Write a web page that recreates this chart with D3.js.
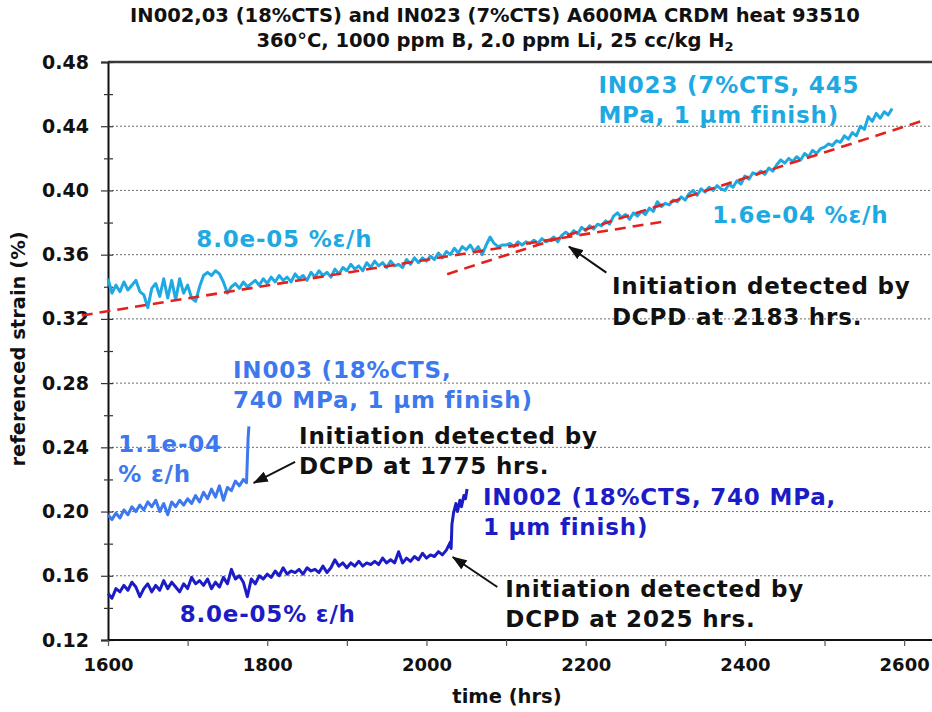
<!DOCTYPE html>
<html>
<head>
<meta charset="utf-8">
<script src="https://cdn.jsdelivr.net/npm/d3@7"></script>
<style>
  body { margin: 0; background: #fff; }
  svg { display: block; font-family: "DejaVu Sans", Verdana, sans-serif; font-weight: bold; }
</style>
</head>
<body>
<script>
// ---- strain histories (%), sampled every 5 h from 1600 h ----
const sampleStart = 1600;
const sampleStep = 5;

// IN023 (7%CTS, 445 MPa)
const in023Values = [
  0.345, 0.336, 0.341, 0.337, 0.343, 0.338, 0.341, 0.344, 0.337, 0.335,
  0.327, 0.339, 0.342, 0.334, 0.345, 0.333, 0.344, 0.332, 0.345, 0.336,
  0.341, 0.333, 0.331, 0.340, 0.347, 0.349, 0.347, 0.350, 0.348, 0.343,
  0.336, 0.340, 0.342, 0.339, 0.343, 0.340, 0.342, 0.344, 0.341, 0.345,
  0.342, 0.346, 0.343, 0.347, 0.344, 0.346, 0.343, 0.348, 0.345, 0.347,
  0.344, 0.349, 0.346, 0.350, 0.347, 0.349, 0.346, 0.351, 0.348, 0.352,
  0.350, 0.354, 0.351, 0.353, 0.350, 0.355, 0.352, 0.356, 0.353, 0.355,
  0.352, 0.356, 0.353, 0.354, 0.352, 0.357, 0.354, 0.358, 0.355, 0.358,
  0.356, 0.359, 0.357, 0.361, 0.358, 0.362, 0.360, 0.364, 0.361, 0.365,
  0.363, 0.366, 0.362, 0.365, 0.360, 0.366, 0.371, 0.367, 0.365, 0.366,
  0.366, 0.367, 0.365, 0.368, 0.366, 0.368, 0.367, 0.369, 0.367, 0.370,
  0.368, 0.369, 0.371, 0.368, 0.372, 0.374, 0.372, 0.375, 0.373, 0.377,
  0.375, 0.378, 0.376, 0.379, 0.378, 0.381, 0.379, 0.384, 0.386, 0.383,
  0.385, 0.382, 0.386, 0.384, 0.387, 0.385, 0.389, 0.387, 0.393, 0.390,
  0.392, 0.391, 0.394, 0.393, 0.396, 0.394, 0.398, 0.400, 0.397, 0.401,
  0.399, 0.402, 0.400, 0.403, 0.401, 0.400, 0.404, 0.402, 0.406, 0.404,
  0.409, 0.407, 0.411, 0.410, 0.412, 0.410, 0.414, 0.412, 0.416, 0.419,
  0.417, 0.420, 0.418, 0.421, 0.419, 0.423, 0.421, 0.425, 0.423, 0.426,
  0.427, 0.429, 0.428, 0.431, 0.430, 0.434, 0.432, 0.436, 0.434, 0.440,
  0.438, 0.446, 0.443, 0.448, 0.445, 0.449, 0.447, 0.451
];

// IN003 (18%CTS, 740 MPa) up to crack initiation
const in003Values = [
  0.198, 0.195, 0.199, 0.196, 0.201, 0.198, 0.203, 0.200, 0.204, 0.201,
  0.206, 0.203, 0.207, 0.200, 0.205, 0.198, 0.206, 0.203, 0.207, 0.204,
  0.208, 0.205, 0.210, 0.206, 0.212, 0.208, 0.214, 0.209, 0.216, 0.207,
  0.215, 0.213, 0.219, 0.216, 0.220
];
// final jump at initiation: [hours, strain]
const in003Tail = [[1774, 0.218], [1775, 0.232], [1776, 0.246], [1777, 0.253]];

// IN002 (18%CTS, 740 MPa) up to crack initiation
const in002Values = [
  0.149, 0.146, 0.152, 0.150, 0.154, 0.151, 0.156, 0.153, 0.147, 0.152,
  0.155, 0.150, 0.154, 0.151, 0.157, 0.152, 0.156, 0.153, 0.150, 0.155,
  0.152, 0.159, 0.155, 0.157, 0.154, 0.158, 0.152, 0.156, 0.153, 0.159,
  0.155, 0.164, 0.158, 0.160, 0.156, 0.147, 0.158, 0.155, 0.160, 0.158,
  0.161, 0.159, 0.163, 0.160, 0.165, 0.161, 0.163, 0.162, 0.164, 0.161,
  0.165, 0.163, 0.164, 0.162, 0.166, 0.162, 0.165, 0.170, 0.166, 0.168,
  0.165, 0.168, 0.166, 0.169, 0.166, 0.168, 0.167, 0.169, 0.167, 0.171,
  0.168, 0.170, 0.168, 0.175, 0.168, 0.171, 0.169, 0.172, 0.170, 0.174,
  0.171, 0.173, 0.172, 0.175, 0.173, 0.176, 0.181
];
const in002Tail = [
  [2031, 0.177], [2032, 0.192], [2034, 0.199], [2037, 0.205], [2039, 0.200],
  [2042, 0.207], [2044, 0.203], [2047, 0.210], [2049, 0.208], [2051, 0.214]
];

// IN023 rate fits: rate (%/h), a point [hours, strain] each passes through, and time span
const fitRates = [8.0e-5, 1.6e-4];
const fitAnchors = [[1900, 0.3488], [2380, 0.4045]];
const fitSpans = [[1567, 2297], [2026, 2625]];

// axes
const xTickValues = [1600, 1700, 1800, 1900, 2000, 2100, 2200, 2300, 2400, 2500, 2600];
const xLabelValues = [1600, 1800, 2000, 2200, 2400, 2600];
const yTickValues = [0.12, 0.16, 0.20, 0.24, 0.28, 0.32, 0.36, 0.40, 0.44, 0.48];
const yMinorValues = [0.14, 0.18, 0.22, 0.26, 0.30, 0.34, 0.38, 0.42, 0.46];
const gridValues = [0.16, 0.20, 0.24, 0.28, 0.32, 0.36, 0.40, 0.44];

const colors = { in023: "#1fa9e3", in003: "#3d78ee", in002: "#1c1cc6", fit: "#e3221e", note: "#111" };

// ---- layout ----
const W = 932, H = 712;
const x = d3.scaleLinear().domain([1600, 2635]).range([108, 932]);
const y = d3.scaleLinear().domain([0.12, 0.48]).range([640, 62]);

const svg = d3.select("body").append("svg").attr("width", W).attr("height", H);

const defs = svg.append("defs");
defs.append("marker")
  .attr("id", "arrowHead").attr("markerUnits", "userSpaceOnUse")
  .attr("markerWidth", 15).attr("markerHeight", 11)
  .attr("refX", 14).attr("refY", 5.5).attr("orient", "auto")
  .append("path").attr("d", "M0,0 L15,5.5 L0,11 Z").attr("fill", colors.note);

// title
const title = svg.append("text").attr("x", 495).attr("text-anchor", "middle")
  .attr("font-size", 19.5).attr("fill", "#111");
title.append("tspan").attr("x", 495).attr("y", 22)
  .text("IN002,03 (18%CTS) and IN023 (7%CTS) A600MA CRDM heat 93510");
const t2 = title.append("tspan").attr("x", 495).attr("y", 47)
  .text("360°C, 1000 ppm B, 2.0 ppm Li, 25 cc/kg H");
t2.append("tspan").attr("font-size", 13).attr("dy", 4).text("2");

// gridlines
svg.append("g").selectAll("line").data(gridValues).join("line")
  .attr("x1", x(1600)).attr("x2", W)
  .attr("y1", d => y(d)).attr("y2", d => y(d))
  .attr("stroke", "#6e6e6e").attr("stroke-width", 1).attr("stroke-dasharray", "2,2");

// top frame line
svg.append("line").attr("x1", x(1600)).attr("x2", W)
  .attr("y1", y(0.48)).attr("y2", y(0.48))
  .attr("stroke", "#3a3a3a").attr("stroke-width", 2.5);

// y axis
const yAxis = svg.append("g").attr("transform", `translate(${x(1600)},0)`)
  .call(d3.axisLeft(y).tickValues(yTickValues).tickSize(7).tickFormat(d3.format(".2f")));
yAxis.select(".domain").attr("stroke", "#111").attr("stroke-width", 2);
yAxis.selectAll(".tick line").attr("stroke", "#333").attr("stroke-width", 1.2);
yAxis.selectAll(".tick text").attr("font-size", 19).attr("font-family", "DejaVu Sans")
  .attr("font-weight", "bold").attr("fill", "#111").attr("x", -19);
svg.append("g").attr("transform", `translate(${x(1600)},0)`)
  .call(d3.axisRight(y).tickValues(yTickValues).tickSize(5).tickFormat(""))
  .call(g => g.select(".domain").remove())
  .selectAll(".tick line").attr("stroke", "#333").attr("stroke-width", 1.2);
svg.append("g").attr("transform", `translate(${x(1600)},0)`)
  .call(d3.axisLeft(y).tickValues(yMinorValues).tickSize(4).tickFormat(""))
  .call(g => g.select(".domain").remove())
  .selectAll(".tick line").attr("stroke", "#333").attr("stroke-width", 1.2);
svg.append("g").attr("transform", `translate(${x(1600)},0)`)
  .call(d3.axisRight(y).tickValues(yMinorValues).tickSize(5).tickFormat(""))
  .call(g => g.select(".domain").remove())
  .selectAll(".tick line").attr("stroke", "#333").attr("stroke-width", 1.2);

// x axis
const xAxis = svg.append("g").attr("transform", `translate(0,${y(0.12)})`)
  .call(d3.axisBottom(x).tickValues(xTickValues).tickSize(6)
    .tickFormat(d => xLabelValues.includes(d) ? d : ""));
xAxis.select(".domain").attr("stroke", "#111").attr("stroke-width", 2)
  .attr("d", `M${x(1600)},0H${W}`);
xAxis.selectAll(".tick line").attr("stroke", "#555").attr("stroke-width", 1.2);
xAxis.selectAll(".tick text").attr("font-size", 18).attr("font-family", "DejaVu Sans")
  .attr("font-weight", "bold").attr("fill", "#111").attr("y", 18).attr("dy", "0.71em");

// axis titles
svg.append("text").attr("x", 507).attr("y", 703).attr("text-anchor", "middle")
  .attr("font-size", 19.5).attr("fill", "#111").text("time (hrs)");
svg.append("text").attr("transform", "translate(25,349) rotate(-90)")
  .attr("text-anchor", "middle").attr("font-size", 19.5).attr("fill", "#111")
  .text("referenced strain (%)");

const line = d3.line().x(d => x(d[0])).y(d => y(d[1]));

// series
const toPoints = vals => vals.map((v, i) => [sampleStart + i * sampleStep, v]);
const series = [
  { pts: toPoints(in023Values), color: colors.in023 },
  { pts: toPoints(in003Values).concat(in003Tail), color: colors.in003 },
  { pts: toPoints(in002Values).concat(in002Tail), color: colors.in002 }
];
svg.append("g").selectAll("path").data(series).join("path")
  .attr("d", d => line(d.pts)).attr("fill", "none").attr("stroke", d => d.color)
  .attr("stroke-width", 3).attr("stroke-linejoin", "round");

// dashed rate fits drawn over the IN023 trace
const fitLines = fitRates.map((r, i) =>
  fitSpans[i].map(t => [t, fitAnchors[i][1] + r * (t - fitAnchors[i][0])]));
svg.append("g").selectAll("path").data(fitLines).join("path")
  .attr("d", line).attr("fill", "none").attr("stroke", colors.fit)
  .attr("stroke-width", 2.6).attr("stroke-dasharray", "11,7");

// annotations: [hours, strain] of the first baseline, lines stacked 30.5 px apart
const notes = [
  { at: [2216, 0.4607], lines: ["IN023 (7%CTS, 445", "MPa, 1 µm finish)"], color: colors.in023 },
  { at: [1711, 0.3648], lines: ["8.0e-05 %ε/h"], color: colors.in023 },
  { at: [2359, 0.3797], lines: ["1.6e-04 %ε/h"], color: colors.in023 },
  { at: [2233, 0.3355], lines: ["Initiation detected by", "DCPD at 2183 hrs."], color: colors.note },
  { at: [1757, 0.2832], lines: ["IN003 (18%CTS,", "740 MPa, 1 µm finish)"], color: colors.in003 },
  { at: [1613, 0.2371], lines: ["1.1e-04", "% ε/h"], color: colors.in003 },
  { at: [1840, 0.2421], lines: ["Initiation detected by", "DCPD at 1775 hrs."], color: colors.note },
  { at: [2071, 0.2041], lines: ["IN002 (18%CTS, 740 MPa,", "1 µm finish)"], color: colors.in002 },
  { at: [1690, 0.1312], lines: ["8.0e-05% ε/h"], color: colors.in002 },
  { at: [2099, 0.1468], lines: ["Initiation detected by", "DCPD at 2025 hrs."], color: colors.note }
];
const noteG = svg.append("g").attr("font-size", 23).attr("letter-spacing", 0.8);
notes.forEach(n => {
  const tx = noteG.append("text").attr("fill", n.color);
  n.lines.forEach((s, i) => {
    tx.append("tspan").attr("x", x(n.at[0])).attr("y", y(n.at[1]) + i * 30.5).text(s);
  });
});

// arrows to initiation points: [from, to] in [hours, strain]
const arrows = [
  [[2226, 0.3488], [2179, 0.3650]],
  [[1835, 0.2309], [1783, 0.2178]],
  [[2089, 0.1530], [2033, 0.1717]]
];
svg.append("g").selectAll("line").data(arrows).join("line")
  .attr("x1", d => x(d[0][0])).attr("y1", d => y(d[0][1]))
  .attr("x2", d => x(d[1][0])).attr("y2", d => y(d[1][1]))
  .attr("stroke", colors.note).attr("stroke-width", 2)
  .attr("marker-end", "url(#arrowHead)");
</script>
</body>
</html>
